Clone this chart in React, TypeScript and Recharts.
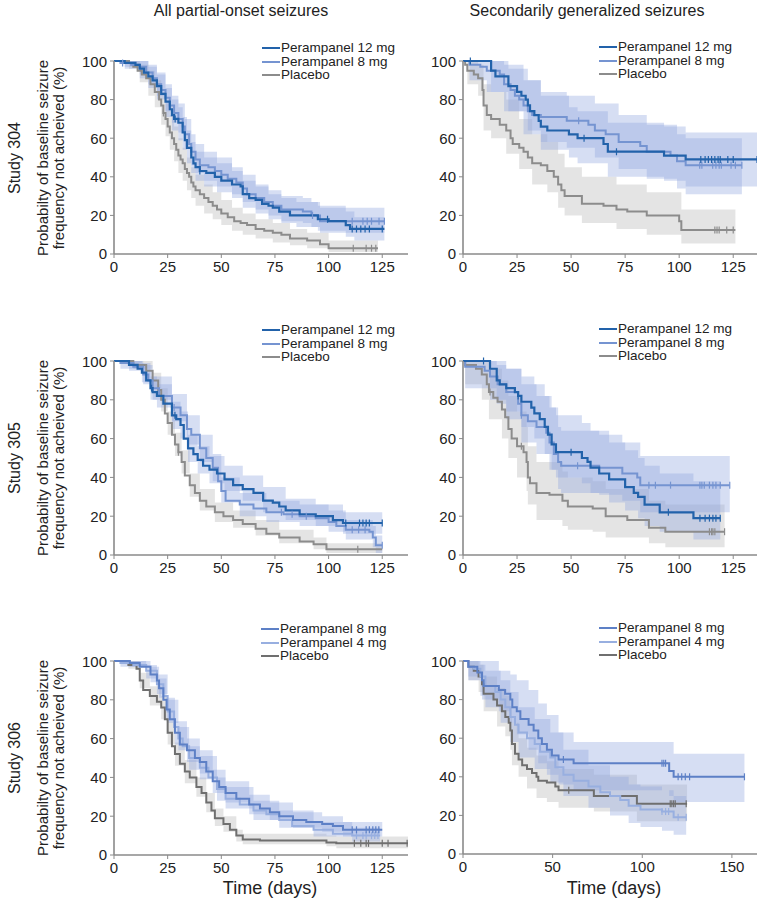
import React from "react";
import { ComposedChart, Line, Area, Scatter, XAxis, YAxis } from "recharts";

const FONT = '"Liberation Sans", Arial, Helvetica, sans-serif';

const DARK_BLUE = "#2262aa";
const LIGHT_BLUE = "#7594d1";
const GREY = "#8c8c8c";
const MID_BLUE = "#5d80c6";
const PALE_BLUE = "#98afe0";
const DARK_GREY = "#6f6f6f";

type Pt = [number, number];
type Ci = [number, number, number];

// ---- Study 304, all partial-onset seizures ----
const s304All12: Pt[] = [[0,100],[5,99],[10,98],[12,96],[14,94],[16,92],[18,90],[20,87],[22,83],[24,79],[26,75],[27,72],[28,70],[30,68],[32,63],[33,59],[34,55],[36,50],[37,47],[38,45],[40,43],[43,42],[47,40],[50,38],[55,36],[59,35],[60,31],[63,29],[66,28],[69,26],[72,25],[74,24],[77,22],[82,20],[95,18],[100,17],[108,15],[110,13],[126,13]];
const s304All12Ci: Ci[] = [[0,100,100],[5,96,100],[12,91,100],[16,86,97],[20,80,93],[24,71,86],[27,64,80],[30,59,76],[32,54,71],[34,47,64],[36,42,58],[38,38,53],[42,35,50],[48,32,47],[55,29,43],[60,24,38],[66,21,35],[72,18,31],[78,16,29],[85,14,27],[95,12,25],[108,9,22],[112,7,19],[126,7,19]];
const s304All12Cens = [28.5, 40, 99.5, 111, 113, 115, 117, 119, 125];
const s304All8: Pt[] = [[0,100],[3,99],[8,98],[12,97],[15,94],[18,91],[20,88],[22,85],[24,81],[26,77],[28,73],[30,70],[32,66],[33,62],[35,57],[36,53],[38,49],[40,46],[44,45],[47,43],[50,41],[53,39],[57,37],[60,34],[62,31],[66,29],[70,27],[74,25],[78,23],[88,22],[92,20],[96,17],[126,17]];
const s304All8Ci: Ci[] = [[0,100,100],[5,97,100],[12,93,100],[16,88,98],[20,82,94],[24,74,88],[27,68,82],[30,63,78],[33,55,70],[36,46,62],[38,42,57],[42,38,53],[48,35,50],[55,31,45],[60,27,41],[66,23,36],[72,20,33],[78,17,30],[88,16,29],[92,14,27],[96,11,24],[126,11,24]];
const s304All8Cens = [4, 92.5, 111, 116, 118, 120, 123.5, 126];
const s304AllPbo: Pt[] = [[0,100],[7,99],[9,97],[11,95],[13,93],[15,91],[17,88],[19,84],[21,80],[22,77],[23,73],[24,70],[25,66],[26,63],[27,60],[28,57],[29,54],[30,51],[31,49],[32,47],[33,44],[34,42],[35,40],[36,37],[37,35],[38,33],[40,31],[42,29],[44,27],[46,25],[48,23],[50,21],[53,19],[56,17],[59,16],[62,15],[66,13],[70,12],[74,11],[78,10],[82,8],[90,7],[96,5],[100,3],[123,3]];
const s304AllPboCi: Ci[] = [[0,100,100],[7,96,100],[12,89,98],[16,82,95],[19,76,90],[22,67,84],[24,61,78],[26,54,72],[28,48,66],[30,42,60],[32,38,55],[34,33,50],[36,29,45],[38,25,41],[42,21,36],[46,18,32],[50,15,28],[55,12,24],[60,10,21],[66,8,18],[74,6,16],[82,4.5,13],[90,3,11],[100,1,7],[123,1,7]];
const s304AllPboCens = [23, 111.5, 117.5, 120, 122];

// ---- Study 304, secondarily generalized ----
const s304Gen12: Pt[] = [[0,100],[13,95],[15,92],[21,87],[25,84],[27,82],[29,80],[30,77],[31,74],[33,72],[35,69],[36,66],[39,64],[49,62],[53,60],[65,57],[67,53],[93,51],[103,49],[136,49]];
const s304Gen12Ci: Ci[] = [[0,100,100],[13,84,100],[21,74,96],[30,64,90],[36,54,82],[49,50,76],[53,47,74],[67,40,68],[93,38,66],[103,35,63],[136,35,63]];
const s304Gen12Cens = [3.4, 56, 71, 110, 112, 113.5, 115, 116.5, 118, 119, 122.5, 125, 136];
const s304Gen8: Pt[] = [[0,100],[3,98],[8,97],[11,95],[17,93],[19,88],[22,85],[24,82],[26,80],[28,77],[30,74],[32,72],[36,71],[48,69],[58,67],[61,64],[66,62],[72,58],[82,56],[85,53],[96,51],[99,48],[103,46],[129,46]];
const s304Gen8Ci: Ci[] = [[0,100,100],[3,90,100],[11,84,100],[19,74,98],[28,62,90],[36,58,84],[48,55,82],[61,50,78],[72,44,72],[85,39,67],[99,34,62],[103,31,60],[129,31,60]];
const s304Gen8Cens = [53.5, 109.5, 110.5, 115.5, 117, 118.5, 119.5, 124, 126, 129];
const s304GenPbo: Pt[] = [[0,100],[1,98],[2,95],[5,93],[7,91],[9,85],[9.5,77],[11,72],[13,70],[17,67],[20,64],[22,60],[23,57],[26,55],[28,53],[30,50],[32,47],[36,46],[39,43],[42,40],[44,36],[45.5,33],[47,30],[55,26],[65,25],[71,23],[76,22],[85,20],[100,17],[101,12.5],[126,12.5]];
const s304GenPboCi: Ci[] = [[0,100,100],[2,88,100],[7,82,98],[9.5,64,88],[13,60,84],[20,52,80],[26,44,70],[32,36,62],[39,32,58],[44,24,52],[47,20,45],[55,16,40],[71,13,36],[85,10,32],[101,5.5,23],[126,5.5,23]];
const s304GenPboCens = [116.5, 117.5, 118.5, 122, 125];

// ---- Study 305, all partial-onset seizures ----
const s305All12: Pt[] = [[0,100],[7,98],[11,96],[13,94],[15,90],[17,86],[18,84],[20,82],[23,78],[27,72],[29,70],[31,67],[32.5,60],[34.5,55],[37,52],[39,49],[41.5,46],[44.5,44],[48,42],[51.5,39],[55.5,36],[60,34],[65,32],[69.5,28],[74,27],[77,25],[80,23],[86.5,21],[94,20],[102,18],[106.7,16.5],[125,16.5]];
const s305All12Ci: Ci[] = [[0,100,100],[7,95,100],[13,89,99],[17,80,92],[20,76,88],[27,65,79],[31,60,74],[34.5,48,62],[39,42,56],[44.5,37,51],[51.5,33,46],[60,28,41],[69.5,22,35],[80,18,29],[94,15,26],[106.7,11,22],[125,11,22]];
const s305All12Cens = [17.5, 28.4, 108, 114.4, 116, 117.5, 119, 125];
const s305All8: Pt[] = [[0,100],[3,99],[9,97],[13.6,93],[16,90],[18,86],[21,82],[27,76],[31,72],[34,65],[36,62],[40,55],[43,50],[46,45],[48.5,38],[50,33],[52,28],[58.6,26],[65,24],[71,22],[79,21],[86.5,20],[94,19],[100,17],[103.6,15],[108,13],[119,12],[120.6,9],[122,5],[125,5]];
const s305All8Ci: Ci[] = [[0,100,100],[3,96,100],[13.6,88,98],[18,80,92],[27,69,83],[34,57,72],[40,48,62],[46,38,52],[50,27,40],[58.6,20,32],[71,17,28],[86.5,15,26],[100,12,23],[108,8,18],[120.6,4,15],[122,1,10],[125,1,10]];
const s305All8Cens = [28, 78, 83, 89.6, 111, 114, 117, 125];
const s305AllPbo: Pt[] = [[0,100],[9,98],[15,95],[18,90],[20.6,85],[22,80],[23.7,73],[25,68],[27,62],[28.4,57],[30,53],[31.5,48],[33,41],[35.3,36],[37.7,32],[40,28],[43,25],[47,22],[51,20],[55.5,18],[60,16],[66,13.5],[71,11],[77,9],[86.5,7],[93,5.5],[99,3],[125,3]];
const s305AllPboCi: Ci[] = [[0,100,100],[9,96,100],[18,86,94],[22,74,86],[25,62,74],[28.4,51,63],[31.5,42,54],[35.3,30,42],[40,23,34],[47,17,27],[55.5,14,23],[66,10,18],[77,6,13],[93,3,9],[99,1,6],[125,1,6]];
const s305AllPboCens = [30, 113.6];

// ---- Study 305, secondarily generalized ----
const s305Gen12: Pt[] = [[0,100],[12.5,96],[15.6,90],[17,88],[20,86],[24,84],[25.5,82],[27,79],[31.6,76],[33,73],[35.5,70],[37.8,66],[39.3,62],[41,57],[43,53],[55,50],[57.6,48],[59,45],[63,42],[67.6,39],[75,35],[79,32],[81,30],[84,26],[91,22],[106.6,19],[119,19]];
const s305Gen12Ci: Ci[] = [[0,100,100],[12.5,86,100],[15.6,78,98],[20,74,96],[27,66,92],[33,60,88],[37.8,52,82],[41,44,76],[43,40,72],[55,37,68],[59,32,64],[67.6,27,58],[75,23,54],[81,19,50],[84,15,46],[91,12,42],[106.6,8,38],[119,8,38]];
const s305Gen12Cens = [9.5, 25.5, 50, 95, 109.6, 112, 114, 115.6, 117, 119];
const s305Gen8: Pt[] = [[0,100],[1,97],[10,95],[12.5,92],[16,88],[20,84],[25.5,78],[27,72],[30,69],[34,66],[38.5,63],[40,58],[42,52],[44,48],[45.4,46],[63,45],[73.7,42],[80.6,40],[82,36],[123.4,36]];
const s305Gen8Ci: Ci[] = [[0,100,100],[1,86,100],[12.5,80,100],[20,70,96],[27,58,88],[34,52,82],[40,44,76],[44,34,66],[45.4,32,64],[63,31,62],[73.7,28,58],[82,22,51],[123.4,22,51]];
const s305Gen8Cens = [27, 53, 86, 89, 96, 109.6, 110.5, 111.6, 114, 115.6, 117, 119, 123.4];
const s305GenPbo: Pt[] = [[0,100],[1,98],[6,96],[8.7,93],[11,88],[12,84],[14,81],[16,79],[18,75],[19.5,71],[21,65],[22.5,60],[25,56],[28,53],[29.4,48],[30,40],[31,37],[34,32],[40,31],[46,28],[48.5,25],[60,24],[66,20],[76,18],[86,14],[93.6,12],[121,12]];
const s305GenPboCi: Ci[] = [[0,100,100],[1,88,100],[8.7,80,100],[12,70,96],[18,60,90],[21,50,82],[25,40,74],[29.4,33,66],[30,26,56],[34,18,48],[46,15,43],[48.5,13,40],[60,12,38],[66,9,34],[86,6,28],[93.6,4,26],[121,4,26]];
const s305GenPboCens = [12.5, 27, 114, 115, 115.6, 116.5, 121];

// ---- Study 306, all partial-onset seizures ----
const s306All8: Pt[] = [[0,100],[7.4,99],[12,97],[17,93],[20,90],[21,86],[23,80],[24.5,75],[26,70],[28.4,63],[30.7,57],[34,54],[37.7,50],[40,48],[43,43],[46,38],[49,35],[52,32],[57,29],[63,26],[68,24],[72.6,22],[77,20],[83.4,18],[89.6,17],[97,16],[102,15],[106.7,13],[125,13]];
const s306All8Ci: Ci[] = [[0,100,100],[7.4,97,100],[17,89,97],[21,81,91],[24.5,69,81],[28.4,57,69],[34,48,60],[40,42,54],[46,32,44],[52,27,38],[63,21,31],[72.6,18,27],[83.4,14,22],[97,12,20],[106.7,9.5,17],[125,9.5,17]];
const s306All8Cens = [111, 113, 117.5, 119, 120.6, 122, 123.4];
const s306All4: Pt[] = [[0,100],[3,99],[9,98],[15,95],[20,88],[23,82],[25,74],[28,66],[30,60],[32,56],[35,50],[40,45],[44,40],[48,34],[52,29],[58.6,26],[65,23],[71,21],[77,18],[83,15],[93,13],[102,11],[111,10],[124,10]];
const s306All4Ci: Ci[] = [[0,100,100],[3,97,100],[15,91,98],[20,83,93],[25,68,80],[30,54,66],[35,44,56],[40,39,51],[48,28,40],[52,24,35],[65,18,28],[77,14,23],[93,9.5,17],[111,7,14],[124,7,14]];
const s306All4Cens = [113, 116, 117.5, 120, 121.5, 123];
const s306AllPbo: Pt[] = [[0,100],[6.7,98],[10.5,96],[12,90],[13.6,85],[16.7,82],[20,79],[22,76],[23.7,70],[25,63],[27,56],[28.4,52],[30.7,47],[33,43],[35.3,40],[38.4,35],[40.8,32],[43,27],[45.4,23],[47,19],[51,16],[54,13],[57,10],[60,8],[68,7.5],[99,6.5],[103.6,6],[137,6]];
const s306AllPboCi: Ci[] = [[0,100,100],[6.7,96,100],[12,86,94],[16.7,77,87],[22,70,82],[25,57,69],[28.4,46,58],[33,37,49],[38.4,30,40],[43,22,32],[47,15,24],[51,12,20],[57,7,13],[60,5.5,11],[99,4.5,10],[103.6,3.5,9.5],[137,3.5,9.5]];
const s306AllPboCens = [112, 115, 117.5, 118.6, 125, 127.7, 136.6];

// ---- Study 306, secondarily generalized ----
const s306Gen8: Pt[] = [[0,100],[3,97],[8,94],[10.6,90],[11.5,87],[20,85],[23.5,83],[26.4,80],[27.5,76],[30,74],[32,70],[36.6,67],[39.4,64],[42,60],[44,57],[46.8,54],[49.6,51],[53.3,49],[61.7,47],[115,43],[117.5,40],[157,40]];
const s306Gen8Ci: Ci[] = [[0,100,100],[3,92,100],[10.6,80,100],[20,74,95],[26.4,68,93],[30,62,90],[36.6,54,85],[42,47,78],[46.8,41,72],[53.3,36,63],[61.7,33,58],[115,30,58],[117.5,27,52],[157,27,52]];
const s306Gen8Cens = [56, 111, 112, 113, 120, 122, 124, 126.4, 157];
const s306Gen4: Pt[] = [[0,100],[3,97],[6,96],[9.7,92],[12.5,87],[18,84],[21,80],[23.6,76],[26.4,71],[29,67],[31,63],[35.7,60],[40,57],[43,53],[48.7,50],[51.5,45],[56,41],[61.7,38],[70,35],[76.6,32],[82,30],[87.7,28],[92.4,25],[99,23],[111,22],[117.5,19],[124.5,19]];
const s306Gen4Ci: Ci[] = [[0,100,100],[3,90,100],[9.7,82,98],[12.5,76,95],[21,68,90],[26.4,58,84],[31,50,76],[40,44,70],[48.7,37,63],[56,30,54],[70,24,46],[82,20,40],[92.4,16,36],[99,14,35],[111,12,33],[117.5,10,30],[124.5,10,30]];
const s306Gen4Cens = [111, 113, 114.7, 120, 124.5];
const s306GenPbo: Pt[] = [[0,100],[3,97],[6,95],[8.7,92],[10.6,88],[11.5,83],[17,80],[19,77],[21.7,74],[23.6,71],[25.5,68],[26.4,64],[27.3,57],[29,52],[31,49],[33,46],[35.7,44],[38.5,42],[41,40],[42,38],[46.8,37],[51.5,35],[53.3,33],[73,30],[97,26],[125,26]];
const s306GenPboCi: Ci[] = [[0,100,100],[3,90,100],[8.7,84,98],[11.5,74,92],[19,66,86],[23.6,61,82],[26.4,54,76],[27.3,46,68],[31,40,60],[35.7,34,55],[41,29,51],[46.8,27,48],[53.3,24,44],[73,22,41],[97,17,36],[125,17,36]];
const s306GenPboCens = [59, 115.6, 116.5, 117.5, 118.4, 124.5];

const TICKS_125 = [0, 25, 50, 75, 100, 125];
const TICKS_150 = [0, 50, 100, 150];
const Y_TICKS = [0, 20, 40, 60, 80, 100];

interface Series {
  name: string;
  color: string;
  width: number;
  pts: Pt[];
  ci: Ci[];
  cens: number[];
  grey?: boolean;
}

interface PanelProps {
  x0: number;
  y0: number;
  h: number;
  dmax: number;
  ticks: number[];
  legendX: number;
  legendY: number;
  series: Series[];
}

const W = 294;
const ROW = 13.5;

function survAt(pts: Pt[], t: number) {
  let v = pts[0][1];
  for (const [pt, s] of pts) {
    if (pt <= t) v = s;
  }
  return v;
}

function Panel({ x0, y0, h, dmax, ticks, legendX, legendY, series }: PanelProps) {
  const left = 50;
  const top = 8;
  const drawOrder = [...series].reverse();
  return (
    <>
      <div style={{ position: "absolute", left: x0 - left, top: y0 - top }}>
        <ComposedChart
          width={left + W + 8}
          height={top + h + 30}
          margin={{ top, right: 8, bottom: 0, left: 0 }}
        >
          <XAxis
            type="number"
            dataKey="t"
            domain={[0, dmax]}
            ticks={ticks}
            allowDataOverflow
            height={30}
            tickSize={4}
            tickMargin={3}
            axisLine={{ stroke: "#8a8a8a", strokeWidth: 1.6 }}
            tickLine={{ stroke: "#8a8a8a" }}
            tick={{ fill: "#222", fontSize: 15, fontFamily: FONT }}
          />
          <YAxis
            type="number"
            domain={[0, 100]}
            ticks={Y_TICKS}
            width={left}
            tickSize={4}
            tickMargin={3}
            axisLine={{ stroke: "#8a8a8a", strokeWidth: 1.6 }}
            tickLine={{ stroke: "#8a8a8a" }}
            tick={{ fill: "#222", fontSize: 15, fontFamily: FONT }}
          />
          {drawOrder.map((s) => (
            <Area
              key={"ci" + s.name}
              data={s.ci.map(([t, lo, hi]) => ({ t, r: [lo, hi] }))}
              dataKey="r"
              type="stepAfter"
              stroke="none"
              fill={s.grey ? "#c4c4c4" : "#8ea4dd"}
              fillOpacity={s.grey ? 0.45 : 0.36}
              isAnimationActive={false}
              dot={false}
              activeDot={false}
            />
          ))}
          {drawOrder.map((s) => (
            <Line
              key={"l" + s.name}
              data={s.pts.map(([t, v]) => ({ t, v }))}
              dataKey="v"
              type="stepAfter"
              stroke={s.color}
              strokeWidth={s.width}
              dot={false}
              activeDot={false}
              isAnimationActive={false}
            />
          ))}
          {drawOrder.map((s) => (
            <Scatter
              key={"c" + s.name}
              data={s.cens.map((t) => ({ t, v: survAt(s.pts, t) }))}
              dataKey="v"
              isAnimationActive={false}
              shape={(p: any) => (
                <line
                  x1={p.cx}
                  x2={p.cx}
                  y1={p.cy - 3.5}
                  y2={p.cy + 3.5}
                  stroke={s.color}
                  strokeWidth={1.2}
                />
              )}
            />
          ))}
        </ComposedChart>
      </div>
      <div style={{ position: "absolute", left: legendX, top: legendY - ROW / 2 }}>
        {series.map((s) => (
          <div
            key={s.name}
            style={{ display: "flex", alignItems: "center", height: ROW }}
          >
            <span
              style={{ display: "inline-block", width: 18, height: 2, background: s.color }}
            />
            <span
              style={{
                marginLeft: 1,
                fontFamily: FONT,
                fontSize: 13.5,
                lineHeight: ROW + "px",
                color: "#222",
                whiteSpace: "nowrap",
              }}
            >
              {s.name}
            </span>
          </div>
        ))}
      </div>
    </>
  );
}

function VLabel({ x, y, size, children }: { x: number; y: number; size: number; children: React.ReactNode }) {
  return (
    <div
      style={{
        position: "absolute",
        left: x,
        top: y,
        transform: "translate(-50%, -50%) rotate(-90deg)",
        whiteSpace: "nowrap",
        fontFamily: FONT,
        fontSize: size,
        color: "#222",
        lineHeight: 1,
      }}
    >
      {children}
    </div>
  );
}

function HLabel({ x, y, size, children }: { x: number; y: number; size: number; children: React.ReactNode }) {
  return (
    <div
      style={{
        position: "absolute",
        left: x,
        top: y,
        transform: "translate(-50%, -50%)",
        whiteSpace: "nowrap",
        fontFamily: FONT,
        fontSize: size,
        color: "#222",
        lineHeight: 1,
      }}
    >
      {children}
    </div>
  );
}

const ser = (name: string, color: string, width: number, pts: Pt[], ci: Ci[], cens: number[], grey = false): Series => ({
  name, color, width, pts, ci, cens, grey,
});

const rows = [
  { label: "Study 304", y0: 61, h: 193 },
  { label: "Study 305", y0: 361, h: 194 },
  { label: "Study 306", y0: 661, h: 194 },
];

export default function App() {
  const panels: PanelProps[] = [
    {
      x0: 114, y0: 61, h: 193, dmax: 137, ticks: TICKS_125, legendX: 262, legendY: 48,
      series: [
        ser("Perampanel 12 mg", DARK_BLUE, 2.2, s304All12, s304All12Ci, s304All12Cens),
        ser("Perampanel 8 mg", LIGHT_BLUE, 2, s304All8, s304All8Ci, s304All8Cens),
        ser("Placebo", GREY, 2, s304AllPbo, s304AllPboCi, s304AllPboCens, true),
      ],
    },
    {
      x0: 463, y0: 61, h: 193, dmax: 136, ticks: TICKS_125, legendX: 599, legendY: 47,
      series: [
        ser("Perampanel 12 mg", DARK_BLUE, 2.2, s304Gen12, s304Gen12Ci, s304Gen12Cens),
        ser("Perampanel 8 mg", LIGHT_BLUE, 2, s304Gen8, s304Gen8Ci, s304Gen8Cens),
        ser("Placebo", GREY, 2, s304GenPbo, s304GenPboCi, s304GenPboCens, true),
      ],
    },
    {
      x0: 114, y0: 361, h: 194, dmax: 137, ticks: TICKS_125, legendX: 262, legendY: 330,
      series: [
        ser("Perampanel 12 mg", DARK_BLUE, 2.2, s305All12, s305All12Ci, s305All12Cens),
        ser("Perampanel 8 mg", LIGHT_BLUE, 2, s305All8, s305All8Ci, s305All8Cens),
        ser("Placebo", GREY, 2, s305AllPbo, s305AllPboCi, s305AllPboCens, true),
      ],
    },
    {
      x0: 463, y0: 361, h: 194, dmax: 136, ticks: TICKS_125, legendX: 599, legendY: 329,
      series: [
        ser("Perampanel 12 mg", DARK_BLUE, 2.2, s305Gen12, s305Gen12Ci, s305Gen12Cens),
        ser("Perampanel 8 mg", LIGHT_BLUE, 2, s305Gen8, s305Gen8Ci, s305Gen8Cens),
        ser("Placebo", GREY, 2, s305GenPbo, s305GenPboCi, s305GenPboCens, true),
      ],
    },
    {
      x0: 114, y0: 661, h: 194, dmax: 137, ticks: TICKS_125, legendX: 261, legendY: 629,
      series: [
        ser("Perampanel 8 mg", MID_BLUE, 2, s306All8, s306All8Ci, s306All8Cens),
        ser("Perampanel 4 mg", PALE_BLUE, 2, s306All4, s306All4Ci, s306All4Cens),
        ser("Placebo", DARK_GREY, 2, s306AllPbo, s306AllPboCi, s306AllPboCens, true),
      ],
    },
    {
      x0: 463, y0: 661, h: 193, dmax: 164, ticks: TICKS_150, legendX: 599, legendY: 628,
      series: [
        ser("Perampanel 8 mg", MID_BLUE, 2, s306Gen8, s306Gen8Ci, s306Gen8Cens),
        ser("Perampanel 4 mg", PALE_BLUE, 2, s306Gen4, s306Gen4Ci, s306Gen4Cens),
        ser("Placebo", DARK_GREY, 2, s306GenPbo, s306GenPboCi, s306GenPboCens, true),
      ],
    },
  ];

  return (
    <div
      style={{
        position: "absolute",
        left: 0,
        top: 0,
        width: 760,
        height: 901,
        background: "#fff",
        overflow: "hidden",
      }}
    >
      <HLabel x={241} y={11} size={16}>All partial-onset seizures</HLabel>
      <HLabel x={587} y={11} size={16}>Secondarily generalized seizures</HLabel>
      {rows.map((r) => (
        <React.Fragment key={r.label}>
          <VLabel x={15} y={r.y0 + r.h / 2} size={16}>{r.label}</VLabel>
          <VLabel x={42} y={r.y0 + r.h / 2} size={15}>Probabilty of baseline seizure</VLabel>
          <VLabel x={58} y={r.y0 + r.h / 2} size={15}>frequency not acheived (%)</VLabel>
        </React.Fragment>
      ))}
      {panels.map((p, i) => (
        <Panel key={i} {...p} />
      ))}
      <HLabel x={270} y={888} size={18}>Time (days)</HLabel>
      <HLabel x={614} y={888} size={18}>Time (days)</HLabel>
    </div>
  );
}
